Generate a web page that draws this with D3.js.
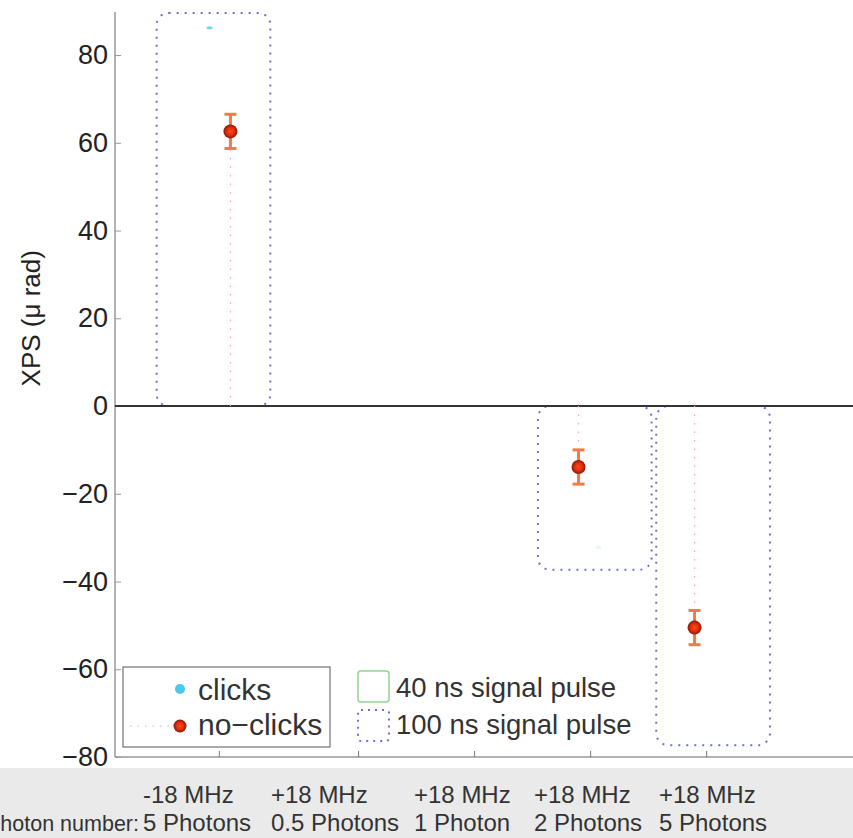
<!DOCTYPE html>
<html lang="en">
<head>
<meta charset="UTF-8">
<title>XPS clicks / no-clicks</title>
<script src="https://cdn.jsdelivr.net/npm/d3@7"></script>
<style>
    body { margin: 0; padding: 0; background: #fff; overflow: hidden; }
    svg { display: block; font-family: "Liberation Sans", Arial, sans-serif; }
</style>
</head>
<body>
<svg id="chart" width="853" height="838"></svg>
<script>
// category positions on the x axis (tick marks)
const catPos = [0.8, 2, 3, 4, 5];
const catLine1 = ["-18 MHz", "+18 MHz", "+18 MHz", "+18 MHz", "+18 MHz"];
const catLine2 = ["5 Photons", "0.5 Photons", "1 Photon", "2 Photons", "5 Photons"];

// no-clicks series (x position, XPS value, error)
const noClickX = [0.9, 3.9, 4.9];
const noClickY = [62.6, -13.9, -50.5];
const noClickErr = [3.9, 3.9, 3.9];

// clicks series (mostly hidden, tiny marks)
const clickX = [0.72, 4.07];
const clickY = [86.2, -32.2];

// 100 ns signal pulse boxes: centre, top, bottom
const boxX = [0.754, 4.04, 5.06];
const boxTop = [89.6, 0, 0];
const boxBottom = [0, -37.3, -77.3];

const yTicks = [-80, -60, -40, -20, 0, 20, 40, 60, 80];

const svg = d3.select('#chart');
const mLeft = 115, mRight = 857, mTop = 12, mBottom = 757;

const x = d3.scaleLinear().domain([-0.095, 6.3]).range([mLeft, mRight]);
const y = d3.scaleLinear().domain([-80, 90]).range([mBottom, mTop - 0.8]);

// grey strip under the plot
svg.append('rect')
    .attr('x', 0).attr('y', 768).attr('width', 853).attr('height', 70)
    .attr('fill', '#eaeaea');

// 100 ns boxes
const boxW = 0.98;
svg.append('g').selectAll('rect')
    .data(boxX)
    .join('rect')
    .attr('x', (d) => x(d - boxW / 2))
    .attr('y', (d, i) => y(boxTop[i]))
    .attr('width', x(boxW) - x(0))
    .attr('height', (d, i) => y(boxBottom[i]) - y(boxTop[i]))
    .attr('rx', 12)
    .attr('fill', 'none')
    .attr('stroke', '#6d6fd6')
    .attr('stroke-width', 2)
    .attr('stroke-dasharray', '2 6');

// y axis
const yAxis = svg.append('g')
    .attr('transform', `translate(${mLeft},0)`)
    .call(d3.axisRight(y).tickValues(yTicks).tickSize(6).tickFormat(d3.format('d')));
yAxis.select('.domain').attr('stroke', '#999').attr('stroke-width', 1.5)
    .attr('d', `M0,${mTop}V${mBottom}`);
yAxis.selectAll('.tick line').attr('stroke', '#999');
yAxis.selectAll('.tick text')
    .attr('x', -7).attr('text-anchor', 'end')
    .attr('font-size', 27).attr('fill', '#222')
    .attr('font-family', '"Liberation Sans", Arial, sans-serif');

// bottom axis (ticks only, pointing up)
const xAxis = svg.append('g')
    .attr('transform', `translate(0,${mBottom})`)
    .call(d3.axisTop(x).tickValues(catPos).tickSize(6).tickFormat(''));
xAxis.select('.domain').attr('stroke', '#999').attr('stroke-width', 1.5)
    .attr('d', `M${mLeft},0H853`);
xAxis.selectAll('.tick line').attr('stroke', '#777');

// zero line
svg.append('line')
    .attr('x1', mLeft).attr('x2', 853)
    .attr('y1', y(0)).attr('y2', y(0))
    .attr('stroke', '#333').attr('stroke-width', 2);

// y label
svg.append('text')
    .attr('transform', `translate(40,${y(20)}) rotate(-90)`)
    .attr('text-anchor', 'middle')
    .attr('font-size', 26).attr('fill', '#222')
    .text('XPS (μ rad)');

// stems for no-clicks
svg.append('g').selectAll('line')
    .data(noClickY)
    .join('line')
    .attr('x1', (d, i) => x(noClickX[i])).attr('x2', (d, i) => x(noClickX[i]))
    .attr('y1', y(0)).attr('y2', (d) => y(d))
    .attr('stroke', '#f3a7a7').attr('stroke-width', 1.2)
    .attr('stroke-dasharray', '1.5 7');

// clicks markers
svg.append('g').selectAll('ellipse')
    .data(clickY)
    .join('ellipse')
    .attr('cx', (d, i) => x(clickX[i]))
    .attr('cy', (d) => y(d))
    .attr('rx', 3).attr('ry', 1.5)
    .attr('fill', '#5cd0f0')
    .attr('opacity', (d, i) => i === 0 ? 0.9 : 0.2);

// error bars
const err = svg.append('g').attr('stroke', '#f07a4a').attr('stroke-width', 3);
noClickY.forEach((v, i) => {
    const cx = x(noClickX[i]);
    const e = noClickErr[i];
    err.append('line').attr('x1', cx).attr('x2', cx).attr('y1', y(v + e)).attr('y2', y(v - e));
    err.append('line').attr('x1', cx - 6).attr('x2', cx + 6).attr('y1', y(v + e)).attr('y2', y(v + e));
    err.append('line').attr('x1', cx - 6).attr('x2', cx + 6).attr('y1', y(v - e)).attr('y2', y(v - e));
});

// no-clicks markers
const grad = svg.append('defs').append('radialGradient').attr('id', 'dot');
grad.append('stop').attr('offset', '0%').attr('stop-color', '#ff4a12');
grad.append('stop').attr('offset', '55%').attr('stop-color', '#e0300c');
grad.append('stop').attr('offset', '100%').attr('stop-color', '#8c1508');
svg.append('g').selectAll('circle')
    .data(noClickY)
    .join('circle')
    .attr('cx', (d, i) => x(noClickX[i]))
    .attr('cy', (d) => y(d))
    .attr('r', 7)
    .attr('fill', 'url(#dot)');

// legend
const lg = svg.append('g').attr('fill', '#333');
lg.append('rect')
    .attr('x', 123).attr('y', 667).attr('width', 207).attr('height', 80)
    .attr('fill', '#fff').attr('stroke', '#555').attr('stroke-width', 1);
lg.append('circle').attr('cx', 180).attr('cy', 689).attr('r', 5).attr('fill', '#4cc8ea');
lg.append('text').attr('x', 198).attr('y', 700).attr('font-size', 30).text('clicks');
lg.append('line').attr('x1', 130).attr('x2', 173).attr('y1', 726).attr('y2', 726)
    .attr('stroke', '#f3a7a7').attr('stroke-width', 1.2).attr('stroke-dasharray', '1.5 6');
lg.append('circle').attr('cx', 180).attr('cy', 726).attr('r', 6.5).attr('fill', 'url(#dot)');
lg.append('text').attr('x', 198).attr('y', 735).attr('font-size', 30).text('no\u2212clicks');

lg.append('rect').attr('x', 358).attr('y', 671).attr('width', 31).attr('height', 31).attr('rx', 3)
    .attr('fill', 'none').attr('stroke', '#92d492').attr('stroke-width', 1.5);
lg.append('text').attr('x', 396).attr('y', 697).attr('font-size', 27.5).text('40 ns signal pulse');
lg.append('rect').attr('x', 358).attr('y', 710).attr('width', 31).attr('height', 31).attr('rx', 3)
    .attr('fill', 'none').attr('stroke', '#6d6fd6').attr('stroke-width', 2).attr('stroke-dasharray', '2 5');
lg.append('text').attr('x', 396).attr('y', 734).attr('font-size', 27.5).text('100 ns signal pulse');

// category labels in the grey strip, left-aligned columns
const labelColX = [143, 271, 414, 534, 659];
const lab = svg.append('g').attr('fill', '#333').attr('font-size', 24);
lab.selectAll('text.l1').data(catLine1).join('text').attr('class', 'l1')
    .attr('x', (d, i) => labelColX[i]).attr('y', 803).text((d) => d);
lab.selectAll('text.l2').data(catLine2).join('text').attr('class', 'l2')
    .attr('x', (d, i) => labelColX[i]).attr('y', 831).text((d) => d);
// the row title is cut at the left edge in the original figure
svg.append('text')
    .attr('x', 139).attr('y', 831).attr('text-anchor', 'end')
    .attr('font-size', 21.5).attr('fill', '#333')
    .text('Photon number:');
</script>
</body>
</html>
